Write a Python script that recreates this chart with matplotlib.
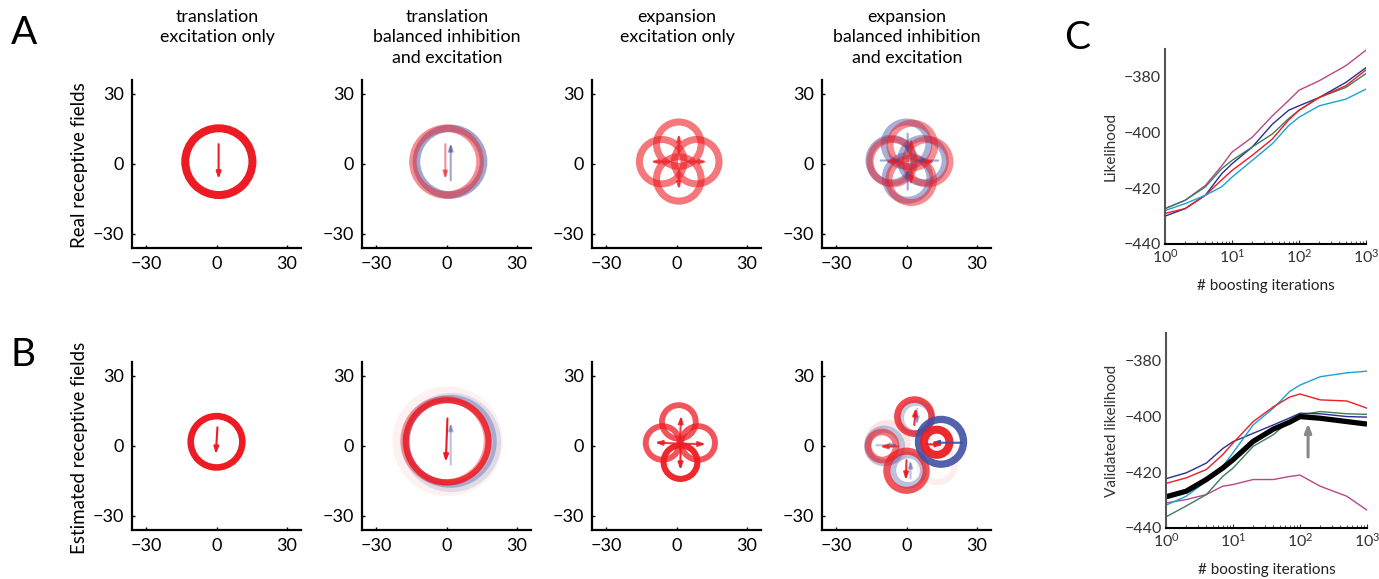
import numpy as np
import matplotlib.pyplot as plt
from matplotlib.patches import Circle

plt.rcParams['font.family'] = ['Lato', 'DejaVu Sans']
plt.rcParams['mathtext.default'] = 'regular'

RED = '#ed1c24'
BLUE = '#3f51a3'

# ---- receptive field panels: rings (x, y, radius, colour, alpha, width) ----
# arrows: (x0, y0, x1, y1, colour, alpha)
col_titles = ['translation\nexcitation only',
              'translation\nbalanced inhibition\nand excitation',
              'expansion\nexcitation only',
              'expansion\nbalanced inhibition\nand excitation']

real_rings = [
    [(1, 1, 14.3, 'r', 1.0, 3.4)],
    [(1.5, 1, 14.3, 'b', 0.5, 3.2), (0, 1, 14.3, 'r', 0.5, 3.2)],
    [(1, 8.5, 9.5, 'r', 0.6, 3.0), (-6.3, 1, 9.5, 'r', 0.6, 3.0),
     (8.6, 1, 9.5, 'r', 0.6, 3.0), (1, -6.4, 9.5, 'r', 0.6, 3.0)],
    [(0, 8.5, 9.5, 'b', 0.45, 3.0), (-6.5, 1.5, 9.5, 'b', 0.45, 3.0),
     (7, 1.5, 9.5, 'b', 0.45, 3.0), (0.5, -6, 9.5, 'b', 0.45, 3.0),
     (2.5, 8, 9.5, 'r', 0.5, 3.0), (-6, 1, 9.5, 'r', 0.5, 3.0),
     (9, 1, 9.5, 'r', 0.5, 3.0), (2, -7, 9.5, 'r', 0.5, 3.0)],
]
real_arrows = [
    [(0.9, 8.5, 0.9, -6.4, 'r', 1.0)],
    [(-0.5, 8.5, -0.5, -6.5, 'r', 0.5), (1.8, -7, 1.8, 9, 'b', 0.5)],
    [(1, 5, 1, 13, 'r', 0.6), (1, -3, 1, -11, 'r', 0.6),
     (-3, 1, -11, 1, 'r', 0.6), (5, 1, 13, 1, 'r', 0.6)],
    [(0.5, 13, 0.5, 4, 'b', 0.5), (0.5, -11, 0.5, -2, 'b', 0.5),
     (-11, 1.5, -2, 1.5, 'b', 0.5), (13.5, 1.5, 4, 1.5, 'b', 0.5),
     (2, 4, 2, 11, 'r', 0.6), (2, -2, 2, -9, 'r', 0.6),
     (-2, 1, -9, 1, 'r', 0.6), (5, 1, 12, 1, 'r', 0.6)],
]

est_rings = [
    [(0, 1.8, 11, 'r', 1.0, 2.8)],
    [(0.5, 2, 21, 'r', 0.06, 5.0), (2, 1.5, 19.5, 'b', 0.15, 3.5),
     (1.5, 2, 18.5, 'b', 0.35, 2.8), (-0.5, 2.2, 17.8, 'r', 0.4, 2.8),
     (0.3, 2, 17.6, 'r', 0.85, 2.6)],
    [(1, 10.3, 7.2, 'r', 0.75, 2.5), (-5.9, 1.3, 7.2, 'r', 0.75, 2.5),
     (9.2, 1.3, 7.2, 'r', 0.75, 2.5), (1.7, -6.9, 7.2, 'r', 0.95, 2.6)],
    [(13, -8, 7.5, 'r', 0.08, 2.6), (-8, 1.5, 8.3, 'r', 0.12, 2.8),
     (-9.4, 0, 7.2, 'b', 0.35, 3.0), (-10.4, 0, 6.0, 'r', 0.6, 2.8),
     (4.2, 12, 6.5, 'b', 0.3, 2.5), (3.4, 12.6, 7.3, 'r', 0.8, 2.8),
     (0.7, -10.4, 6.5, 'b', 0.35, 2.8), (0, -10.6, 8.4, 'r', 0.75, 3.0),
     (14.7, 1.8, 9.6, 'b', 0.9, 3.1), (12.9, 1.6, 5.4, 'r', 0.95, 3.4)],
]
est_arrows = [
    [(0.4, 8, -0.3, -3.5, 'r', 1.0)],
    [(1.8, -8, 1.8, 10, 'b', 0.35), (0.4, 11.8, -0.3, -6.8, 'r', 1.0)],
    [(1.5, 3, 2, 13, 'r', 0.85), (1.5, 1, -9.2, 1.5, 'r', 0.85),
     (1.5, 1, 12.5, 0.8, 'r', 0.85), (1.7, -1, 1.7, -10.3, 'r', 0.95)],
    [(4.5, 16, 4.5, 9, 'b', 0.3), (3.3, 9, 4, 16.3, 'r', 0.9),
     (-12.8, 0.3, -3.5, 0.3, 'b', 0.35), (-3.5, -0.2, -11.3, -0.2, 'r', 0.7),
     (23.8, 1.4, 10.6, 1.4, 'b', 0.95), (8.5, 0.7, 15.6, 0.7, 'r', 0.95),
     (1.7, -14, 1.7, -6, 'b', 0.35), (0, -6.1, -0.3, -14.6, 'r', 0.9)],
]

# ---- boosting curves ----
iters = [1, 2, 4, 7, 10, 20, 40, 70, 100, 200, 500, 1000]
train = {
    '#b8478a': [-427.3, -424.3, -419, -412, -407, -401.7, -394, -388.5, -384.8, -381.4, -376, -370.4],
    '#2b2e8f': [-430, -427.3, -422.5, -414.8, -411.2, -405.2, -397, -392, -390.4, -387.4, -382, -376.7],
    '#3e7c5c': [-427.3, -424.3, -419.5, -413, -410, -405.2, -400.5, -395, -392, -387.4, -383.8, -378.8],
    '#ed1c24': [-429, -427.3, -422.5, -417, -413.6, -408.2, -402.3, -395.5, -392, -387.4, -383.2, -377.5],
    '#1ba1d3': [-428, -425.5, -422.5, -419.5, -416, -410, -404, -397.5, -394.5, -390.4, -388, -384.4],
}
valid = {
    '#b8478a': [-431, -429.8, -428, -425, -424.4, -422.6, -422.6, -421.5, -421, -425, -428.6, -433.6],
    '#3e7c5c': [-436, -432.1, -428, -421.5, -418.5, -410.7, -406.5, -401.5, -399.4, -398.2, -399, -399.2],
    '#2b2e8f': [-422.3, -420.2, -416.7, -411.5, -409, -406, -403, -400.5, -398.8, -399, -400, -400.2],
    '#1ba1d3': [-431.8, -428.6, -423.2, -417.9, -413, -403, -397, -391, -388.7, -385.7, -384.3, -383.7],
    '#ed1c24': [-424, -422, -419, -413.7, -409.5, -401.8, -396.5, -393, -391.9, -394, -394.4, -397],
}
valid_mean = [-428.8, -426.8, -422.6, -418.5, -415.5, -408.9, -404.5, -402, -400, -400.6, -401.8, -402.7]
best_iter = 132

W, H = 1379, 579
fig = plt.figure(figsize=(W / 100, H / 100), dpi=100)


def px_axes(left, top, right, bottom):
    return fig.add_axes([left / W, 1 - bottom / H, (right - left) / W, (bottom - top) / H])


def draw_field(ax, rings, arrows):
    for x, y, r, c, a, w in rings:
        col = RED if c == 'r' else BLUE
        ax.add_patch(Circle((x, y), r, fill=False, ec=col, alpha=a,
                            lw=w * 2.35 * 0.72))
    for x0, y0, x1, y1, c, a in arrows:
        col = RED if c == 'r' else BLUE
        ax.annotate('', xy=(x1, y1), xytext=(x0, y0),
                    arrowprops=dict(arrowstyle='-|>,head_length=0.4,head_width=0.14',
                                    color=col, alpha=a, lw=1.5,
                                    shrinkA=0, shrinkB=0))
    ax.set_xlim(-36, 36)
    ax.set_ylim(-36, 36)
    ax.set_xticks([-30, 0, 30])
    ax.set_yticks([-30, 0, 30])
    ax.tick_params(direction='in', length=2, width=1, labelsize=13, pad=6)
    for s in ['top', 'right']:
        ax.spines[s].set_visible(False)
    for s in ['left', 'bottom']:
        ax.spines[s].set_linewidth(1.6)


lefts = [132, 362, 592, 822]
for i, left in enumerate(lefts):
    axa = px_axes(left, 80, left + 169, 248)
    draw_field(axa, real_rings[i], real_arrows[i])
    axb = px_axes(left, 362, left + 169, 530)
    draw_field(axb, est_rings[i], est_arrows[i])
    fig.text((left + 85) / W, 1 - 9 / H, col_titles[i], ha='center', va='top',
             fontsize=12.8, linespacing=1.33)

fig.text(80 / W, 1 - 165 / H, 'Real receptive fields', rotation=90,
         ha='center', va='center', fontsize=13.5)
fig.text(80 / W, 1 - 448 / H, 'Estimated receptive fields', rotation=90,
         ha='center', va='center', fontsize=13.5)
fig.text(11 / W, 1 - 33 / H, 'A', fontsize=28, va='center')
fig.text(11 / W, 1 - 355 / H, 'B', fontsize=28, va='center')
fig.text(1064 / W, 1 - 38 / H, 'C', fontsize=28, va='center')


def style_c(ax, ylabel):
    ax.set_xscale('log')
    ax.set_xlim(1, 1000)
    ax.set_ylim(-440, -370)
    ax.set_yticks([-440, -420, -400, -380])
    ax.set_xticks([1, 10, 100, 1000])
    ax.set_xticklabels([r'$10^0$', r'$10^1$', r'$10^2$', r'$10^3$'])
    ax.tick_params(which='both', direction='in', labelsize=11.5, colors='#333333', pad=3)
    ax.tick_params(which='major', length=3)
    ax.tick_params(which='minor', length=2)
    ax.tick_params(axis='y', which='major', length=0)
    for s in ['top', 'right']:
        ax.spines[s].set_visible(False)
    ax.spines['left'].set_color('#555555')
    ax.spines['left'].set_linewidth(1.5)
    ax.spines['bottom'].set_linewidth(1.5)
    ax.set_ylabel(ylabel, fontsize=11, color='#333333', labelpad=4)
    ax.set_xlabel('# boosting iterations', fontsize=11, color='#222222', labelpad=9)


axc1 = px_axes(1165, 49, 1366, 244)
for col, vals in train.items():
    axc1.plot(iters, vals, color=col, lw=1.0)
style_c(axc1, 'Likelihood')

axc2 = px_axes(1166, 333, 1367, 528)
for col, vals in valid.items():
    axc2.plot(iters, vals, color=col, lw=1.0)
axc2.plot(iters, valid_mean, color='black', lw=3.8, solid_capstyle='butt')
axc2.annotate('', xy=(best_iter, -402.5), xytext=(best_iter, -414.5),
              arrowprops=dict(arrowstyle='-|>,head_length=0.5,head_width=0.2',
                              color='#888888', lw=2.2, shrinkA=0, shrinkB=0))
style_c(axc2, 'Validated likelihood')

fig.savefig('out.png', dpi=100)
